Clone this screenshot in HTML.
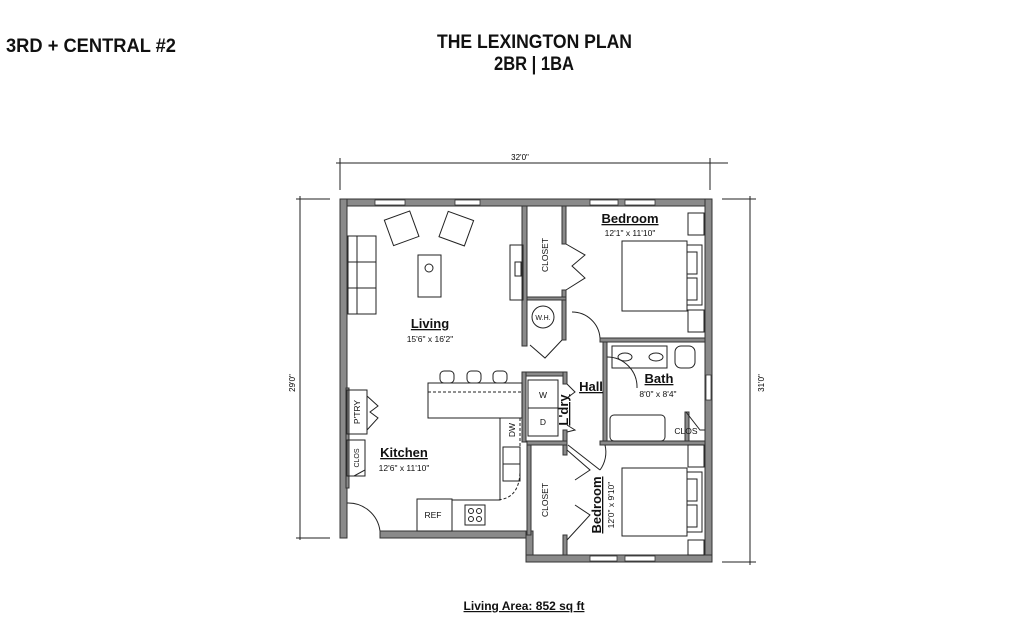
<!DOCTYPE html>
<html><head><meta charset="utf-8"><style>
html,body{margin:0;padding:0;background:#fff;}
svg{display:block;font-family:"Liberation Sans",Arial,sans-serif;}
</style></head><body>
<svg width="1024" height="628" viewBox="0 0 1024 628" xmlns="http://www.w3.org/2000/svg">
<g font-family="'Liberation Sans',sans-serif" font-weight="bold" fill="#111">
<text x="6" y="52" font-size="19" textLength="170" lengthAdjust="spacingAndGlyphs">3RD + CENTRAL #2</text>
<text x="437" y="48" font-size="19" textLength="195" lengthAdjust="spacingAndGlyphs">THE LEXINGTON PLAN</text>
<text x="494" y="70" font-size="19" textLength="80" lengthAdjust="spacingAndGlyphs">2BR | 1BA</text>
</g>
<!-- dimension lines -->
<g stroke="#222" stroke-width="1" fill="none">
<line x1="336" y1="163" x2="728" y2="163"/><line x1="340" y1="158" x2="340" y2="190"/><line x1="710" y1="158" x2="710" y2="190"/>
<line x1="300" y1="196" x2="300" y2="540"/><line x1="296" y1="199" x2="330" y2="199"/><line x1="296" y1="538" x2="330" y2="538"/>
<line x1="750" y1="196" x2="750" y2="565"/><line x1="722" y1="199" x2="756" y2="199"/><line x1="722" y1="562" x2="756" y2="562"/>
</g>
<text x="520" y="160" font-size="8" text-anchor="middle">32'0"</text>
<text transform="translate(295,383) rotate(-90)" font-size="8" text-anchor="middle">29'0"</text>
<text transform="translate(764,383) rotate(-90)" font-size="8" text-anchor="middle">31'0"</text>
<!-- outer walls -->
<g fill="#8a8a8a" stroke="#333" stroke-width="1">
<rect x="340" y="199" width="372" height="7"/>
<rect x="340" y="199" width="7" height="339"/>
<rect x="705" y="199" width="7" height="363"/>
<rect x="380" y="531" width="153" height="7"/>
<rect x="526" y="531" width="7" height="31"/>
<rect x="526" y="555" width="186" height="7"/>
<!-- interior walls -->
<rect x="522" y="206" width="5" height="140"/>
<rect x="562" y="206" width="4" height="38"/>
<rect x="562" y="290" width="4" height="50"/>
<rect x="527" y="297" width="39" height="3"/>
<rect x="600" y="338" width="105" height="4"/>
<rect x="603" y="342" width="4" height="100"/>
<rect x="522" y="372" width="45" height="4"/>
<rect x="522" y="372" width="4" height="70"/>
<rect x="563" y="372" width="4" height="12"/>
<rect x="563" y="430" width="4" height="14"/>
<rect x="527" y="441" width="40" height="4"/>
<rect x="600" y="441" width="105" height="4"/>
<rect x="527" y="445" width="4" height="90"/>
<rect x="563" y="445" width="4" height="10"/>
<rect x="563" y="535" width="4" height="20"/>
<rect x="346" y="388" width="3" height="100"/>
<rect x="685" y="412" width="4" height="29"/>
</g>
<!-- windows -->
<g fill="#fff" stroke="#333" stroke-width="0.8">
<rect x="375" y="200" width="30" height="5"/><rect x="455" y="200" width="25" height="5"/>
<rect x="590" y="200" width="28" height="5"/><rect x="625" y="200" width="30" height="5"/>
<rect x="706" y="375" width="5" height="25"/>
<rect x="590" y="556" width="27" height="5"/><rect x="625" y="556" width="30" height="5"/>
</g>
<g fill="none" stroke="#222" stroke-width="1">
<rect x="348" y="236" width="28" height="78"/><line x1="357" y1="236" x2="357" y2="314"/>
<line x1="348" y1="262" x2="376" y2="262"/><line x1="348" y1="288" x2="376" y2="288"/>
<rect x="388" y="215" width="27" height="27" transform="rotate(-20 401 228)"/>
<rect x="443" y="215" width="27" height="27" transform="rotate(20 456 228)"/>
<rect x="418" y="255" width="23" height="42"/><circle cx="429" cy="268" r="4"/>
<rect x="510" y="245" width="13" height="55"/><rect x="515" y="262" width="6" height="14"/>
<polyline points="566,244 585,255 572,266 585,278 566,290"/>
<circle cx="543" cy="317" r="11"/>
<path d="M530,345 L545,358 L562,340"/>
<path d="M572,312 A28,28 0 0 1 600,338"/>
<rect x="428" y="383" width="94" height="35"/>
<polyline points="500,418 500,500 452,500"/>
<rect x="417" y="499" width="35" height="32"/>
<rect x="465" y="505" width="20" height="20"/>
<circle cx="471" cy="511" r="2.5"/><circle cx="479" cy="511" r="2.5"/><circle cx="471" cy="519" r="2.5"/><circle cx="479" cy="519" r="2.5"/>
<rect x="503" y="447" width="17" height="34"/><line x1="503" y1="464" x2="520" y2="464"/>
<path d="M520,418 L520,470 Q520,500 495,500" stroke-dasharray="3,2"/>
<line x1="428" y1="392" x2="522" y2="392" stroke-dasharray="3,2"/>
<rect x="440" y="371" width="14" height="12" rx="4"/><rect x="467" y="371" width="14" height="12" rx="4"/><rect x="493" y="371" width="14" height="12" rx="4"/>
<rect x="347" y="390" width="20" height="44"/><polyline points="367,396 378,406 370,412 378,418 367,430"/>
<rect x="347" y="440" width="18" height="36"/><polyline points="365,445 365,470 354,476"/>
<path d="M347,503 A32,32 0 0 1 380,531"/>
<rect x="528" y="380" width="30" height="28"/><rect x="528" y="408" width="30" height="28"/>
<rect x="612" y="346" width="55" height="22"/><ellipse cx="625" cy="357" rx="7" ry="4"/><ellipse cx="656" cy="357" rx="7" ry="4"/>
<rect x="675" y="346" width="20" height="22" rx="6"/>
<rect x="610" y="415" width="55" height="26" rx="4"/>
<path d="M607,357 A30,30 0 0 1 637,388"/>
<rect x="622" y="241" width="65" height="70"/><rect x="687" y="245" width="15" height="60"/>
<rect x="687" y="252" width="10" height="22"/><rect x="687" y="278" width="10" height="22"/>
<rect x="688" y="213" width="16" height="22"/><rect x="688" y="310" width="16" height="22"/>
<rect x="622" y="468" width="65" height="68"/><rect x="687" y="472" width="15" height="60"/>
<rect x="687" y="479" width="10" height="22"/><rect x="687" y="505" width="10" height="22"/>
<rect x="688" y="445" width="16" height="22"/><rect x="688" y="540" width="16" height="15"/>
<polyline points="567,450 590,470 575,480"/><polyline points="567,540 590,515 575,505"/>
<path d="M568,445 L600,470"/><path d="M600,470 A30,30 0 0 0 605,445"/>
<path d="M686,412 L700,430 L705,430"/>
<polyline points="567,384 575,392 567,398"/><polyline points="567,425 575,430 567,432"/>
</g>
<g fill="#111" text-anchor="middle">
<g font-weight="bold" font-size="13" text-decoration="underline">
<text x="430" y="328">Living</text>
<text x="630" y="223">Bedroom</text>
<text x="404" y="457">Kitchen</text>
<text x="659" y="383">Bath</text>
<text x="591" y="391">Hall</text>
<text transform="translate(568,410) rotate(-90)">L'dry</text>
<text transform="translate(601,505) rotate(-90)">Bedroom</text>
</g>
<g font-size="8.5">
<text x="430" y="342">15'6" x 16'2"</text>
<text x="630" y="236">12'1" x 11'10"</text>
<text x="404" y="471">12'6" x 11'10"</text>
<text x="658" y="397">8'0" x 8'4"</text>
<text transform="translate(614,505) rotate(-90)">12'0" x 9'10"</text>
<text x="543" y="320" font-size="7">W.H.</text>
<text x="543" y="398">W</text><text x="543" y="425">D</text>
<text x="433" y="518">REF</text>
<text x="686" y="434">CLOS</text>
<text transform="translate(548,255) rotate(-90)">CLOSET</text>
<text transform="translate(548,500) rotate(-90)">CLOSET</text>
<text transform="translate(360,412) rotate(-90)">P'TRY</text>
<text transform="translate(359,458) rotate(-90)" font-size="7">CLOS</text>
<text transform="translate(515,430) rotate(-90)">DW</text>
</g>
<text x="524" y="610" font-size="12" font-weight="bold" text-decoration="underline">Living Area: 852 sq ft</text>
</g>
</svg>
</body></html>
